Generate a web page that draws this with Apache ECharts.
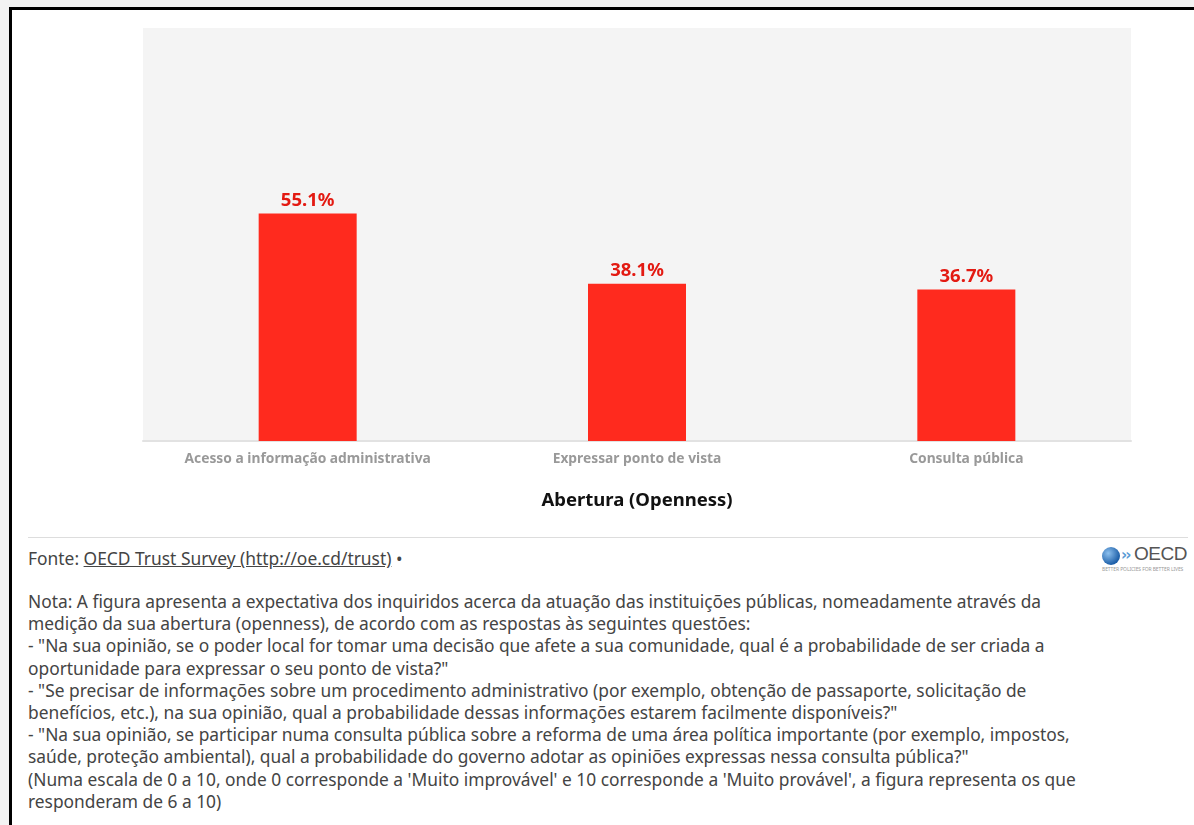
<!DOCTYPE html>
<html>
<head>
<meta charset="utf-8">
<script src="https://cdn.jsdelivr.net/npm/echarts@6/dist/echarts.min.js"></script>
<style>
  html, body { margin: 0; padding: 0; }
  body { width: 1194px; height: 825px; background: #f3f3f3; position: relative; overflow: hidden; font-family: "Noto Sans", sans-serif; }
  .frame { position: absolute; left: 9px; top: 7px; right: -10px; bottom: -10px; background: #fff; border-top: 3px solid #000; border-left: 3px solid #000; }
  #chart { position: absolute; left: 0; top: 0; width: 1194px; height: 530px; }
  .sep { position: absolute; left: 28px; top: 537px; width: 1160px; height: 1px; background: #ddd; }
  .source { position: absolute; left: 28px; top: 547px; font-size: 17.4px; color: #444; line-height: 22px; }
  .source a { color: #444; text-decoration: underline; }
  .note { position: absolute; left: 28px; top: 590px; font-size: 17.35px; color: #444; line-height: 22.2px; white-space: nowrap; }
  .logo { position: absolute; left: 1101px; top: 545px; width: 90px; height: 28px; }
  .globe { position: absolute; left: 1px; top: 2px; width: 18px; height: 18px; border-radius: 50%; background: radial-gradient(circle at 35% 35%, #8cc0ee, #1d5fa8 70%); }
  .chev { position: absolute; left: 20px; top: 0px; font-size: 15px; line-height: 20px; color: #5a9bd5; font-weight: bold; letter-spacing: -2px; font-family: "DejaVu Sans", sans-serif; }
  .oecd { position: absolute; left: 33px; top: -2px; font-size: 19px; color: #555; font-family: "Liberation Sans", sans-serif; letter-spacing: -0.5px; }
  .tag { position: absolute; left: 1px; top: 21px; font-size: 5px; color: #999; white-space: nowrap; letter-spacing: -0.1px; }
</style>
</head>
<body>
<div class="frame"></div>
<div id="chart"></div>
<div class="sep"></div>
<div class="source">Fonte: <a>OECD Trust Survey (http://oe.cd/trust)</a> &bull;</div>
<div class="logo">
  <div class="globe"></div>
  <div class="chev">&rsaquo;&rsaquo;</div>
  <div class="oecd">OECD</div>
  <div class="tag">BETTER POLICIES FOR BETTER LIVES</div>
</div>
<div class="note">
Nota: A figura apresenta a expectativa dos inquiridos acerca da atuação das instituições públicas, nomeadamente através da<br>
medição da sua abertura (openness), de acordo com as respostas às seguintes questões:<br>
- "Na sua opinião, se o poder local for tomar uma decisão que afete a sua comunidade, qual é a probabilidade de ser criada a<br>
oportunidade para expressar o seu ponto de vista?"<br>
- "Se precisar de informações sobre um procedimento administrativo (por exemplo, obtenção de passaporte, solicitação de<br>
benefícios, etc.), na sua opinião, qual a probabilidade dessas informações estarem facilmente disponíveis?"<br>
- "Na sua opinião, se participar numa consulta pública sobre a reforma de uma área política importante (por exemplo, impostos,<br>
saúde, proteção ambiental), qual a probabilidade do governo adotar as opiniões expressas nessa consulta pública?"<br>
(Numa escala de 0 a 10, onde 0 corresponde a 'Muito improvável' e 10 corresponde a 'Muito provável', a figura representa os que<br>
responderam de 6 a 10)
</div>
<script>
// dados
const categories = ['Acesso a informação administrativa', 'Expressar ponto de vista', 'Consulta pública'];
const values = [55.1, 38.1, 36.7];
const axisTitle = 'Abertura (Openness)';

const chart = echarts.init(document.getElementById('chart'));

const option = {
  animation: false,
  grid: {
    left: 143,
    top: 28,
    width: 988,
    height: 413,
    show: true,
    backgroundColor: '#f4f4f4',
    borderWidth: 0
  },
  xAxis: {
    type: 'category',
    data: categories,
    name: axisTitle,
    nameLocation: 'middle',
    nameGap: 50,
    nameTextStyle: { fontFamily: 'Noto Sans', fontSize: 18.5, fontWeight: 'bold', color: '#111' },
    axisLine: { lineStyle: { color: '#e2e2e2', width: 2 } },
    axisTick: { alignWithLabel: true, length: 6, lineStyle: { color: '#dcdcdc' } },
    axisLabel: { fontFamily: 'Noto Sans', fontSize: 13.8, fontWeight: 'bold', color: '#999', margin: 11 }
  },
  yAxis: {
    type: 'value',
    min: 0,
    max: 100,
    show: false
  },
  series: [{
    type: 'bar',
    data: values,
    barWidth: 98,
    itemStyle: { color: '#ff2a1e' },
    label: {
      show: true,
      position: 'top',
      distance: 3,
      formatter: p => p.value.toFixed(1) + '%',
      fontFamily: 'Noto Sans',
      fontSize: 18.5,
      fontWeight: 'bold',
      color: '#e31a12'
    }
  }]
};

chart.setOption(option);
</script>
</body>
</html>
